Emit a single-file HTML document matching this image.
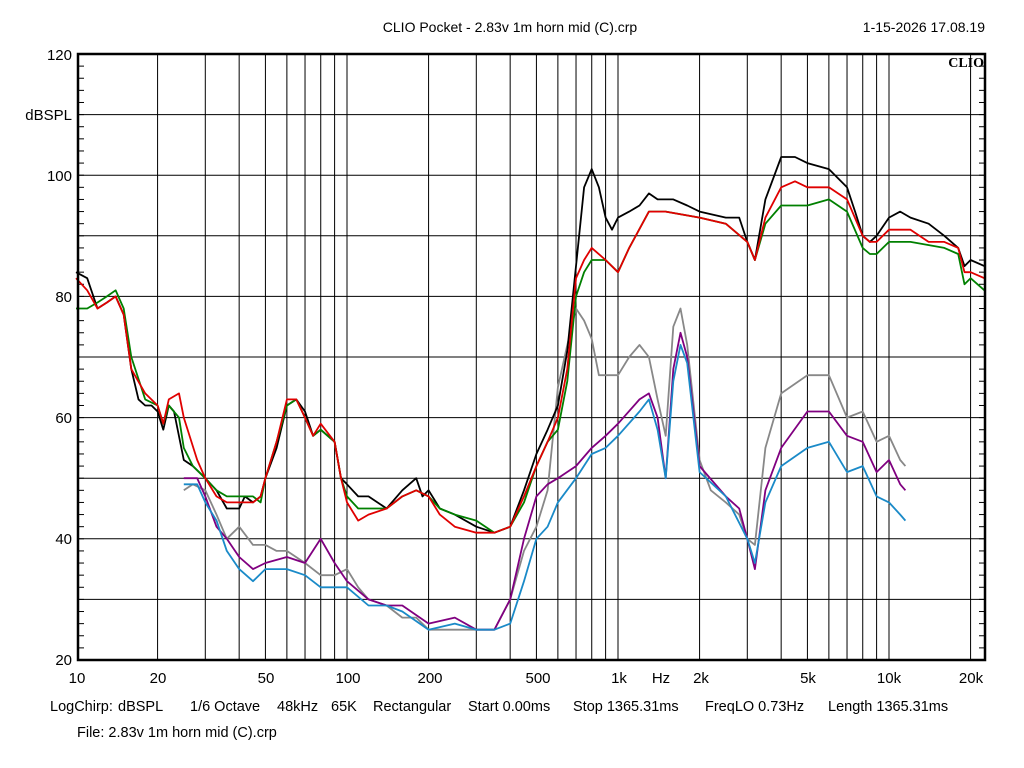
<!DOCTYPE html>
<html><head><meta charset="utf-8"><style>
body{margin:0;background:#fff;}
svg{display:block;font-family:"Liberation Sans",sans-serif;}
</style></head><body>
<svg id="s" width="1024" height="768" xmlns="http://www.w3.org/2000/svg">
<rect width="1024" height="768" fill="#fff"/>
<g id="grid"></g>
<g id="curves" fill="none" stroke-width="1.8" stroke-linejoin="round"></g>
<rect x="78" y="54" width="907" height="606" fill="none" stroke="#000" stroke-width="2.5"/>
<text x="510" y="32" font-size="14" text-anchor="middle">CLIO Pocket - 2.83v 1m horn mid (C).crp</text>
<text x="985" y="32" font-size="14" text-anchor="end">1-15-2026 17.08.19</text>
<text x="984" y="67" font-size="14" font-weight="bold" font-family="Liberation Serif,serif" text-anchor="end">CLIO</text>
<g font-size="15" text-anchor="end">
<text x="72" y="60">120</text><text x="72" y="120">dBSPL</text><text x="72" y="181">100</text>
<text x="72" y="302">80</text><text x="72" y="423">60</text><text x="72" y="544">40</text><text x="72" y="665">20</text>
</g>
<g font-size="15" text-anchor="middle">
<text x="77" y="683">10</text><text x="158" y="683">20</text><text x="266" y="683">50</text><text x="348" y="683">100</text>
<text x="430" y="683">200</text><text x="538" y="683">500</text><text x="619" y="683">1k</text><text x="661" y="683">Hz</text>
<text x="701" y="683">2k</text><text x="808" y="683">5k</text><text x="889" y="683">10k</text><text x="971" y="683">20k</text>
</g>
<g font-size="14.5">
<text x="50" y="711">LogChirp:</text><text x="118" y="711">dBSPL</text><text x="190" y="711">1/6 Octave</text>
<text x="277" y="711">48kHz</text><text x="331" y="711">65K</text><text x="373" y="711">Rectangular</text>
<text x="468" y="711">Start 0.00ms</text><text x="573" y="711">Stop 1365.31ms</text>
<text x="705" y="711">FreqLO 0.73Hz</text><text x="828" y="711">Length 1365.31ms</text>
<text x="77" y="737">File: 2.83v 1m horn mid (C).crp</text>
</g>
</svg>
<script>
function X(f){return 618+271*Math.log10(f/1000);}
function Y(d){return 54+(120-d)*6.06;}
var g=document.getElementById('grid'),h='';
[10,100,1000,10000].forEach(function(b){for(var k=1;k<10;k++){var f=b*k;if(f<=10||f>22500)continue;var x=X(f);h+='<line x1="'+x+'" y1="54" x2="'+x+'" y2="660" stroke="#000" stroke-width="1"/>';}});
for(var d=30;d<120;d+=10){var y=Y(d);h+='<line x1="78" y1="'+y+'" x2="985" y2="'+y+'" stroke="#000" stroke-width="1"/>';}
for(var d=22;d<120;d+=2){var y=Y(d);h+='<line x1="78" y1="'+y+'" x2="84" y2="'+y+'" stroke="#000"/><line x1="979" y1="'+y+'" x2="985" y2="'+y+'" stroke="#000"/>';}
g.innerHTML=h;
var C={
'#888':[[25,48],[27,49],[30,48],[33,44],[36,40],[40,42],[45,39],[50,39],[55,38],[60,38],[70,36],[80,34],[90,34],[100,35],[110,32],[120,30],[140,29],[160,27],[180,27],[200,25],[250,25],[300,25],[350,25],[400,30],[450,38],[500,42],[550,48],[600,65],[650,72],[700,78],[750,76],[800,73],[850,67],[900,67],[1000,67],[1100,70],[1200,72],[1300,70],[1400,63],[1500,57],[1600,75],[1700,78],[1800,72],[2000,53],[2200,48],[2500,46],[2800,44],[3000,40],[3200,39],[3500,55],[4000,64],[5000,67],[6000,67],[7000,60],[8000,61],[9000,56],[10000,57],[11000,53],[11500,52]],
'#800080':[[25,50],[28,50],[30,47],[33,42],[36,40],[40,37],[45,35],[50,36],[60,37],[70,36],[80,40],[90,36],[100,33],[120,30],[140,29],[160,29],[200,26],[250,27],[300,25],[350,25],[400,30],[450,40],[500,47],[550,49],[600,50],[700,52],[800,55],[900,57],[1000,59],[1200,63],[1300,64],[1400,60],[1500,50],[1600,68],[1700,74],[1800,70],[2000,52],[2500,47],[2800,45],[3000,40],[3200,35],[3500,48],[4000,55],[5000,61],[6000,61],[7000,57],[8000,56],[9000,51],[10000,53],[11000,49],[11500,48]],
'#1a8ac8':[[25,49],[28,49],[30,46],[33,43],[36,38],[40,35],[45,33],[50,35],[60,35],[70,34],[80,32],[90,32],[100,32],[120,29],[140,29],[160,28],[200,25],[250,26],[300,25],[350,25],[400,26],[450,33],[500,40],[550,42],[600,46],[700,50],[800,54],[900,55],[1000,57],[1200,61],[1300,63],[1400,58],[1500,50],[1600,66],[1700,72],[1800,69],[2000,51],[2500,47],[3000,40],[3200,36],[3500,46],[4000,52],[5000,55],[6000,56],[7000,51],[8000,52],[9000,47],[10000,46],[11000,44],[11500,43]],
'#000':[[10,84],[11,83],[12,78],[13,79],[14,80],[15,77],[16,68],[17,63],[18,62],[19,62],[20,61],[21,58],[22,62],[23,61],[25,53],[27,52],[30,50],[33,48],[36,45],[40,45],[42,47],[45,46],[48,47],[50,50],[55,55],[60,62],[65,63],[70,61],[75,57],[80,58],[90,56],[95,50],[100,49],[110,47],[120,47],[140,45],[160,48],[180,50],[190,47],[200,48],[220,45],[250,44],[300,42],[350,41],[400,42],[450,48],[500,54],[550,58],[600,62],[650,71],[700,85],[750,98],[800,101],[850,98],[900,93],[950,91],[1000,93],[1100,94],[1200,95],[1300,97],[1400,96],[1600,96],[1800,95],[2000,94],[2500,93],[2800,93],[3000,89],[3200,86],[3500,96],[4000,103],[4500,103],[5000,102],[6000,101],[7000,98],[7500,94],[8000,90],[8500,89],[9000,90],[10000,93],[11000,94],[12000,93],[14000,92],[16000,90],[18000,88],[19000,85],[20000,86],[22500,85]],
'#008000':[[10,78],[11,78],[12,79],[13,80],[14,81],[15,78],[16,70],[18,63],[20,62],[21,59],[22,62],[24,60],[25,55],[27,52],[30,50],[33,48],[36,47],[40,47],[45,47],[48,46],[50,50],[55,56],[60,62],[65,63],[70,60],[75,57],[80,58],[90,56],[95,50],[100,47],[110,45],[120,45],[140,45],[160,47],[180,48],[200,47],[220,45],[250,44],[300,43],[350,41],[400,42],[450,46],[500,52],[550,56],[600,58],[650,66],[700,80],[750,84],[800,86],[900,86],[1000,84],[1100,88],[1300,94],[1500,94],[2000,93],[2500,92],[3000,89],[3200,86],[3500,92],[4000,95],[5000,95],[6000,96],[7000,94],[8000,88],[8500,87],[9000,87],[10000,89],[12000,89],[16000,88],[18000,87],[19000,82],[20000,83],[22500,81]],
'#e00000':[[10,83],[11,81],[12,78],[13,79],[14,80],[15,77],[16,68],[18,64],[20,62],[21,59],[22,63],[24,64],[25,60],[28,53],[30,50],[33,47],[36,46],[40,46],[45,46],[48,47],[50,50],[55,56],[60,63],[65,63],[70,60],[75,57],[80,59],[90,56],[95,50],[100,46],[110,43],[120,44],[140,45],[160,47],[180,48],[200,47],[220,44],[250,42],[300,41],[350,41],[400,42],[450,47],[500,52],[550,56],[600,60],[650,68],[700,83],[750,86],[800,88],[900,86],[1000,84],[1100,88],[1300,94],[1500,94],[2000,93],[2500,92],[3000,89],[3200,86],[3500,93],[4000,98],[4500,99],[5000,98],[6000,98],[7000,96],[8000,90],[8500,89],[9000,89],[10000,91],[12000,91],[14000,89],[16000,89],[18000,88],[19000,84],[20000,84],[22500,83]]
};
var s='';for(var c in C){s+='<polyline stroke="'+c+'" points="'+C[c].map(function(p){return X(p[0]).toFixed(1)+','+Y(p[1]).toFixed(1);}).join(' ')+'"/>';}
document.getElementById('curves').innerHTML=s;
</script>
</body></html>
